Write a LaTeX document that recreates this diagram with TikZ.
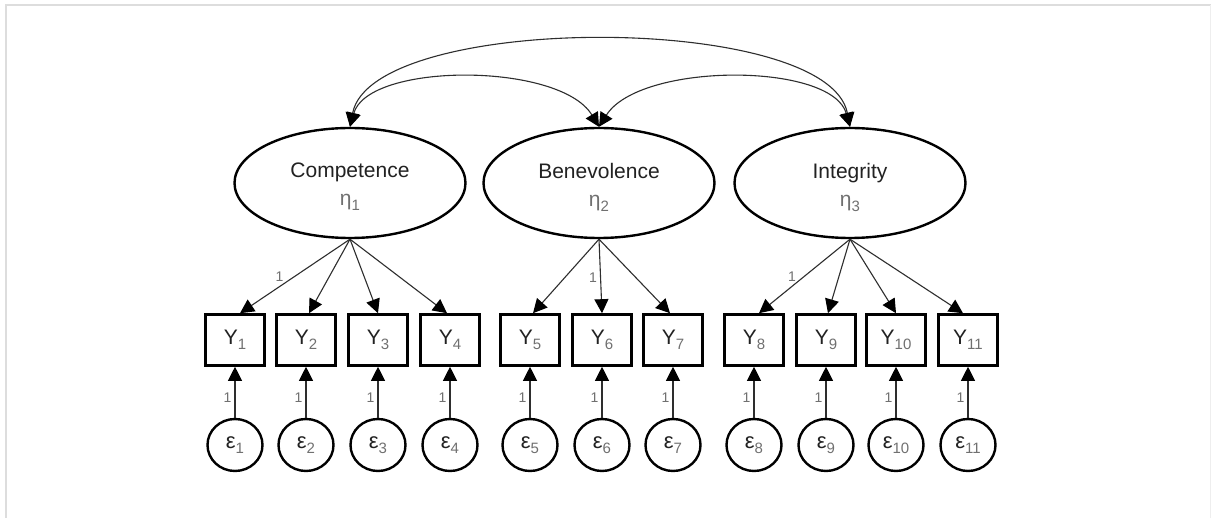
\documentclass[tikz,border=0pt]{standalone}
\usepackage{fontspec}
\setmainfont{Liberation Sans}
\usetikzlibrary{shapes.geometric,arrows.meta}

\definecolor{ink}{HTML}{222222}
\definecolor{subgray}{HTML}{707070}
\definecolor{wire}{HTML}{2E2E2E}
\definecolor{framegray}{HTML}{DDDDDD}

% lowered grey index used in Y_k, eta_k, epsilon_k
\newcommand{\lowsub}[1]{{\fontsize{15}{15}\selectfont\color{subgray}\raisebox{-5pt}{#1}}}

\tikzset{
  latent/.style={ellipse, draw=black, line width=2.4pt, minimum width=231pt,
    minimum height=110pt, inner sep=0pt},
  latenttext/.style={align=center, font=\fontsize{21}{28}\selectfont, text=ink,
    inner sep=0pt, yshift=-4pt},
  indicator/.style={rectangle, draw=black, line width=2.6pt, minimum width=59pt,
    minimum height=51pt, inner sep=0pt, font=\fontsize{21}{21}\selectfont, text=ink},
  errterm/.style={ellipse, draw=black, line width=2.4pt, minimum width=55pt,
    minimum height=52pt, inner sep=0pt, font=\fontsize{22}{22}\selectfont, text=ink},
  tip/.tip={Triangle[length=14pt,width=14pt,color=black]},
  load/.style={draw=wire, line width=1.1pt, -tip},
  cov/.style={draw=wire, line width=1.1pt, tip-tip},
  one/.style={font=\fontsize{14}{14}\selectfont, text=subgray, inner sep=2pt},
}

\begin{document}
\begin{tikzpicture}[x=1pt,y=-1pt]
  \useasboundingbox (0,0) rectangle (1211,518);
  \fill[white] (0,0) rectangle (1211,518);

  % page frame
  \draw[framegray, line width=2pt] (5.5,518) -- (5.5,5) -- (1211,5);
  \draw[framegray!50, line width=1pt] (1210.5,5) -- (1210.5,518);

  % latent factors
  \node[latent] (c) at (350,183) {};
  \node[latent] (b) at (599,183) {};
  \node[latent] (i) at (850,183) {};
  \node[latenttext] (ct) at (c.center) {Competence\\{\color{subgray}η}\lowsub{1}};
  \node[latenttext] (bt) at (b.center) {Benevolence\\{\color{subgray}η}\lowsub{2}};
  \node[latenttext] (it) at (i.center) {Integrity\\{\color{subgray}η}\lowsub{3}};

  % indicators and their error terms
  \foreach \k/\x in {1/235,2/306,3/378,4/450,5/530,6/602,7/673,8/754,9/826,10/896,11/968} {
    \node[indicator] (Y\k) at (\x,340) {Y\lowsub{\k}};
    \node[errterm] (e\k) at (\x,445) {ε\lowsub{\k}};
    \draw[load] (e\k.north) -- node[one, left=1pt, pos=0.4] {1} (Y\k.south);
  }

  % factor loadings
  \draw[load] (c.south) -- node[one, left=9pt, pos=0.5] {1} ([xshift=5pt]Y1.north);
  \draw[load] (c.south) -- ([xshift=3pt]Y2.north);
  \draw[load] (c.south) -- (Y3.north);
  \draw[load] (c.south) -- ([xshift=-3pt]Y4.north);
  \draw[load] (b.south) -- ([xshift=3pt]Y5.north);
  \draw[load] (b.south) -- node[one, left=1pt, pos=0.52] {1} (Y6.north);
  \draw[load] (b.south) -- ([xshift=-3pt]Y7.north);
  \draw[load] (i.south) -- node[one, left=6pt, pos=0.5] {1} ([xshift=5pt]Y8.north);
  \draw[load] (i.south) -- ([xshift=2pt]Y9.north);
  \draw[load] (i.south) -- (Y10.north);
  \draw[load] (i.south) -- ([xshift=-5pt]Y11.north);

  % factor covariances
  \draw[cov] (c.north) .. controls (368,62) and (560,62) .. (b.north);
  \draw[cov] (b.north) .. controls (640,62) and (832,62) .. (i.north);
  \draw[cov] (c.north) .. controls (372,12) and (828,12) .. (i.north);
\end{tikzpicture}
\end{document}
